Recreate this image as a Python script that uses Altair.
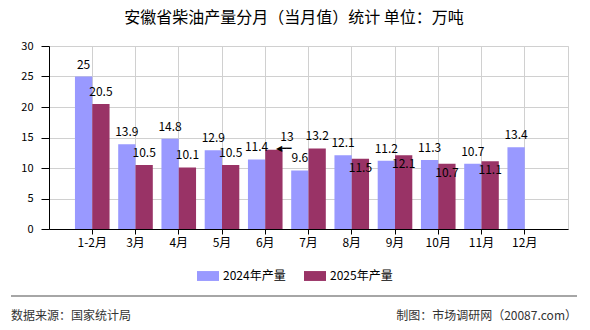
import altair as alt
import pandas as pd

months = ["1-2月", "3月", "4月", "5月", "6月", "7月", "8月", "9月", "10月", "11月", "12月"]
v2024 = [25, 13.9, 14.8, 12.9, 11.4, 9.6, 12.1, 11.2, 11.3, 10.7, 13.4]
v2025 = [20.5, 10.5, 10.1, 10.5, 13, 13.2, 11.5, 12.1, 10.7, 11.1, None]
years = ["2024年产量", "2025年产量"]
colors = ["#9999FF", "#993366"]
y_ticks = [0, 5, 10, 15, 20, 25, 30]
title_text = "安徽省柴油产量分月（当月值）统计 单位：万吨"
source_text = "数据来源：国家统计局"
maker_text = "制图：市场调研网（20087.com）"

FONT = "Noto Sans CJK SC"

rows = []
for m, a, b in zip(months, v2024, v2025):
    rows.append({"month": m, "year": years[0], "value": a, "pos": "above"})
    if b is not None:
        d = abs(b - a)
        pos = "below" if d < 1 else ("side" if d < 2 else "above")
        rows.append({"month": m, "year": years[1], "value": b, "pos": pos})
df = pd.DataFrame(rows)

x_enc = alt.X("month:N", sort=months,
              scale=alt.Scale(paddingInner=0.2, paddingOuter=0.6),
              axis=alt.Axis(title=None, labelAngle=0, grid=True, gridColor="#d0d0d0",
                            domainColor="#000", tickColor="#000", tickSize=5,
                            labelPadding=3, labelFontSize=12, labelColor="#000",
                            labelFont=FONT))
xo_enc = alt.XOffset("year:N", sort=years, scale=alt.Scale(paddingInner=0, paddingOuter=0))
y_enc = alt.Y("value:Q", scale=alt.Scale(domain=[0, 30], nice=False),
              axis=alt.Axis(title=None, values=y_ticks, grid=True, gridColor="#d0d0d0",
                            domainColor="#000", tickColor="#000", tickSize=8,
                            labelPadding=8, labelFontSize=11, labelColor="#000",
                            labelFont=FONT))

base = alt.Chart(df)

bars = base.mark_bar().encode(
    x=x_enc, xOffset=xo_enc, y=y_enc,
    color=alt.Color("year:N", sort=years,
                    scale=alt.Scale(domain=years, range=colors),
                    legend=alt.Legend(orient="none", legendX=148, legendY=219,
                                      direction="horizontal", title=None, padding=0,
                                      symbolType="M-1,-0.45H1V0.45H-1Z", symbolSize=484,
                                      symbolStrokeWidth=0, symbolOpacity=1,
                                      labelFontSize=12, labelFont=FONT, labelColor="#000",
                                      labelOffset=4, columnPadding=18)),
)

labels_above = base.transform_filter(alt.datum.pos == "above").mark_text(
    dy=-12, fontSize=12, font=FONT, color="#000", baseline="middle"
).encode(x=x_enc, xOffset=xo_enc, y=y_enc, text=alt.Text("value:Q"))

labels_below = base.transform_filter(alt.datum.pos == "below").mark_text(
    dy=9, fontSize=12, font=FONT, color="#000", baseline="middle"
).encode(x=x_enc, xOffset=xo_enc, y=y_enc, text=alt.Text("value:Q"))

labels_side = base.transform_filter(alt.datum.pos == "side").mark_text(
    dx=13, dy=-13, fontSize=12, font=FONT, color="#000", baseline="middle"
).encode(x=x_enc, xOffset=xo_enc, y=y_enc, text=alt.Text("value:Q"))

arrow_side = base.transform_filter(alt.datum.pos == "side").mark_text(
    dx=2, dy=-1, fontSize=8, font="DejaVu Sans", color="#000",
    align="left", baseline="middle"
).encode(x=x_enc, xOffset=xo_enc, y=y_enc, text=alt.value("◀━━"))

txt = pd.DataFrame({"t": [title_text], "s": [source_text], "m": [maker_text]})
title = alt.Chart(txt).mark_text(fontSize=16, font=FONT, color="#000",
                                 align="center", baseline="middle").encode(
    text="t:N", x=alt.value(245), y=alt.value(-28))
sep = alt.Chart(txt).mark_rule(color="#888", strokeWidth=1.5).encode(
    x=alt.value(-38), x2=alt.value(528), y=alt.value(250))
src = alt.Chart(txt).mark_text(fontSize=12, font=FONT, color="#333",
                               align="left", baseline="middle").encode(
    text="s:N", x=alt.value(-38), y=alt.value(270))
mk = alt.Chart(txt).mark_text(fontSize=12, font=FONT, color="#333",
                              align="right", baseline="middle").encode(
    text="m:N", x=alt.value(528), y=alt.value(270))

chart = alt.layer(bars, labels_above, labels_below, labels_side, arrow_side,
                  title, sep, src, mk).properties(
    width=519, height=183,
    autosize=alt.AutoSizeParams(type="none"),
    padding={"left": 49, "top": 46, "right": 22, "bottom": 101},
    background="#ffffff",
).configure_view(stroke="#d0d0d0")

chart.save("out.html", embed_options={"renderer": "svg", "actions": False})
